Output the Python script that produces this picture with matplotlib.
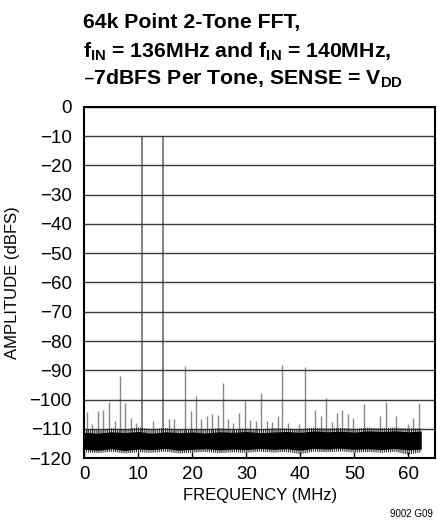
import matplotlib
matplotlib.use("Agg")
import matplotlib.pyplot as plt
import numpy as np

plt.rcParams['font.family'] = ['Liberation Sans', 'DejaVu Sans']
plt.rcParams['mathtext.default'] = 'regular'
plt.rcParams['hatch.linewidth'] = 0.8

# two tones (aliased) and spurs
tone_freq = [10.6, 14.6]
tone_db = [-10, -10]

spur_freq = [0.5, 1.5, 2.6, 3.5, 4.6, 5.6, 6.6, 7.6, 8.6, 9.6, 12.7, 15.7, 16.7,
             18.7, 19.7, 20.7, 21.7, 22.7, 23.7, 24.7, 25.7, 26.7, 27.6, 28.7,
             29.7, 30.7, 31.8, 32.8, 33.8, 34.8, 35.8, 36.7, 37.8, 39.8, 40.8,
             42.8, 43.8, 44.8, 45.8, 46.8, 47.8, 48.8, 49.8, 51.8, 54.8, 55.8,
             57.8, 60.0, 60.9, 62.0]
spur_db = [-104.3, -108.5, -104.0, -103.4, -100.8, -107.4, -91.8, -101.1, -106.3,
           -108.0, -107.4, -106.8, -106.8, -88.4, -104.0, -98.9, -106.5, -105.7,
           -104.9, -105.2, -94.2, -106.8, -108.0, -104.6, -100.6, -107.0, -107.4,
           -97.7, -107.4, -107.5, -105.7, -88.1, -108.0, -108.3, -88.8, -103.6,
           -105.6, -99.6, -107.5, -104.5, -103.6, -104.8, -106.3, -101.5, -105.7,
           -100.9, -105.7, -108.2, -106.3, -101.1]

# noise floor envelope (dense core and ragged fringe)
noise_f = [0, 2.5, 5, 7.5, 10, 12.5, 15, 17.5, 20, 22.5, 25, 27.5, 30, 32.5,
           35, 37.5, 40, 42.5, 45, 47.5, 50, 52.5, 55, 57.5, 60, 62.4]
core_top = [-111.2, -111.5, -111.0, -111.3, -110.9, -111.5, -111.0, -111.3,
            -111.1, -111.4, -111.0, -111.2, -110.9, -111.3, -111.1, -110.9,
            -111.2, -110.7, -111.0, -110.8, -111.1, -110.7, -110.9, -110.7,
            -111.0, -110.8]
core_bot = [-117.0, -117.3, -116.8, -117.4, -116.9, -117.1, -116.7, -117.3,
            -117.0, -116.8, -117.2, -116.9, -117.1, -116.7, -117.0, -116.8,
            -117.3, -116.7, -116.9, -116.6, -117.0, -116.8, -117.1, -116.7,
            -117.2, -116.9]
fringe_top = [-110.0, -110.3, -109.8, -110.2, -109.5, -110.1, -109.7, -110.3,
              -110.0, -110.2, -109.8, -110.1, -109.9, -110.2, -109.8, -109.9,
              -110.1, -109.6, -109.9, -109.7, -110.0, -109.6, -109.8, -109.6,
              -109.9, -109.8]
fringe_bot = [-118.0, -118.3, -117.8, -118.4, -118.0, -118.2, -117.8, -118.4,
              -118.1, -117.9, -118.3, -118.0, -118.2, -117.8, -118.1, -117.9,
              -118.6, -117.8, -118.0, -117.7, -118.1, -117.9, -118.2, -117.8,
              -118.8, -118.0]

fig = plt.figure(figsize=(4.37, 5.29), dpi=100)
ax = fig.add_axes([0.193, 0.134, 0.803, 0.664])

floor = -112
ax.fill_between(noise_f, fringe_bot, fringe_top, facecolor='none', edgecolor='#2a2a2a',
                hatch='||||||||', lw=0, zorder=2)
ax.fill_between(noise_f, core_bot, core_top, color='black', lw=0, zorder=3)
ax.vlines(spur_freq, floor, spur_db, color='#888888', lw=1.0, zorder=1)
ax.vlines(tone_freq, floor, tone_db, color='#777777', lw=1.3, zorder=1)

ax.set_xlim(0, 65)
ax.set_ylim(-120, 0)
ax.set_xticks(np.arange(0, 61, 10))
ax.set_yticks(np.arange(-120, 1, 10))
ax.grid(axis='y', color='#3a3a3a', lw=1.0)
ax.grid(axis='x', visible=False)
for gl in ax.get_ygridlines():
    gl.set_zorder(4)
ax.tick_params(axis='x', direction='in', length=4, width=1, pad=6, labelsize=13.5)
ax.tick_params(axis='y', length=0, pad=9, labelsize=13.5)
for s in ax.spines.values():
    s.set_linewidth(1.5)
    s.set_zorder(5)

ax.set_xlabel('FREQUENCY (MHz)', fontsize=12, labelpad=3)
ax.set_ylabel('AMPLITUDE (dBFS)', fontsize=12, labelpad=7)

title_lines = ['64k Point 2-Tone FFT,',
               r'f$_{IN}$ = 136MHz and f$_{IN}$ = 140MHz,',
               r'–7dBFS Per Tone, SENSE = V$_{DD}$']
for line, yb in zip(title_lines, [0.9465, 0.8917, 0.8393]):
    fig.text(0.19, yb, line, fontsize=15.3, fontweight='bold', va='baseline', ha='left')

fig.text(0.99, 0.022, '9002 G09', fontsize=7, ha='right', va='baseline')

fig.savefig('out.png', dpi=100)
